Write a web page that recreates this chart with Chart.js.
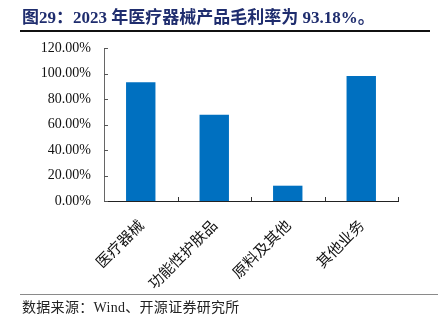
<!DOCTYPE html>
<html>
<head>
<meta charset="utf-8">
<script src="https://cdn.jsdelivr.net/npm/chart.js@4"></script>
<style>
  html, body { margin: 0; padding: 0; background: #fff; }
  #wrap { position: relative; width: 438px; height: 329px; overflow: hidden; }
  #chart { position: absolute; left: 0; top: 0; }
  .title {
    position: absolute; left: 22px; top: 3px;
    font: bold 17px "Liberation Serif", "Noto Sans CJK SC", serif;
    color: #1f2d6e; white-space: nowrap;
  }
  .rule-top { position: absolute; left: 20px; top: 30px; width: 410px; height: 1.5px; background: #111; }
  .rule-bottom { position: absolute; left: 20px; top: 294px; width: 418px; height: 1px; background: #8a8a8a; }
  .source {
    position: absolute; left: 22px; top: 296px;
    font: 14px "Liberation Serif", "Noto Sans CJK SC", serif;
    letter-spacing: 0.3px; color: #222; white-space: nowrap;
  }
</style>
</head>
<body>
<div id="wrap">
  <canvas id="chart" width="438" height="329"></canvas>
  <div class="title">图29：2023 年医疗器械产品毛利率为 93.18%。</div>
  <div class="rule-top"></div>
  <div class="rule-bottom"></div>
  <div class="source">数据来源：Wind、开源证券研究所</div>
</div>
<script>
// gross margin by business line, 2023 (%)
const categories = ['医疗器械', '功能性护肤品', '原料及其他', '其他业务'];
const grossMargin = [93.18, 67.7, 12.0, 98.0];
const yTicks = [0, 20, 40, 60, 80, 100, 120];

const BAR_COLOR = '#0070c0';

// short tick marks drawn on the inner side of both axes
const innerTicks = {
    id: 'innerTicks',
    afterDraw(chart) {
        const { ctx, scales: { x, y } } = chart;
        ctx.save();
        ctx.lineWidth = 1;
        ctx.strokeStyle = '#555';
        yTicks.forEach(v => {
            const py = Math.round(y.getPixelForValue(v)) + 0.5;
            ctx.beginPath();
            ctx.moveTo(x.left, py);
            ctx.lineTo(x.left + 4, py);
            ctx.stroke();
        });
        ctx.strokeStyle = '#333';
        for (let i = 1; i <= categories.length; i++) {
            const px = Math.round(x.getPixelForValue(i - 0.5)) + 0.5;
            ctx.beginPath();
            ctx.moveTo(px, y.bottom);
            ctx.lineTo(px, y.bottom - 4);
            ctx.stroke();
        }
        ctx.restore();
    },
};

new Chart(document.getElementById('chart'), {
    type: 'bar',
    data: {
        labels: categories,
        datasets: [{
            data: grossMargin,
            backgroundColor: BAR_COLOR,
            borderWidth: 0,
            barPercentage: 0.4,
            categoryPercentage: 1,
        }],
    },
    options: {
        responsive: false,
        animation: false,
        layout: { padding: { top: 48, right: 40, bottom: 0, left: 0 } },
        scales: {
            x: {
                grid: { display: false, drawTicks: false },
                border: { display: true, color: '#222', width: 1 },
                ticks: {
                    minRotation: 45,
                    maxRotation: 45,
                    padding: 15,
                    color: '#111',
                    font: { family: '"Noto Sans CJK SC", sans-serif', size: 15 },
                },
                afterFit: scale => { scale.height = 128; },
            },
            y: {
                min: 0,
                max: 120,
                grid: { display: false, drawTicks: false },
                border: { display: true, color: '#666', width: 1 },
                ticks: {
                    stepSize: 20,
                    padding: 13,
                    color: '#111',
                    font: { family: '"Liberation Serif", serif', size: 14 },
                    callback: v => v.toFixed(2) + '%',
                },
                afterFit: scale => { scale.width = 104; },
            },
        },
        plugins: {
            legend: { display: false },
            tooltip: { enabled: false },
        },
    },
    plugins: [innerTicks],
});
</script>
</body>
</html>
